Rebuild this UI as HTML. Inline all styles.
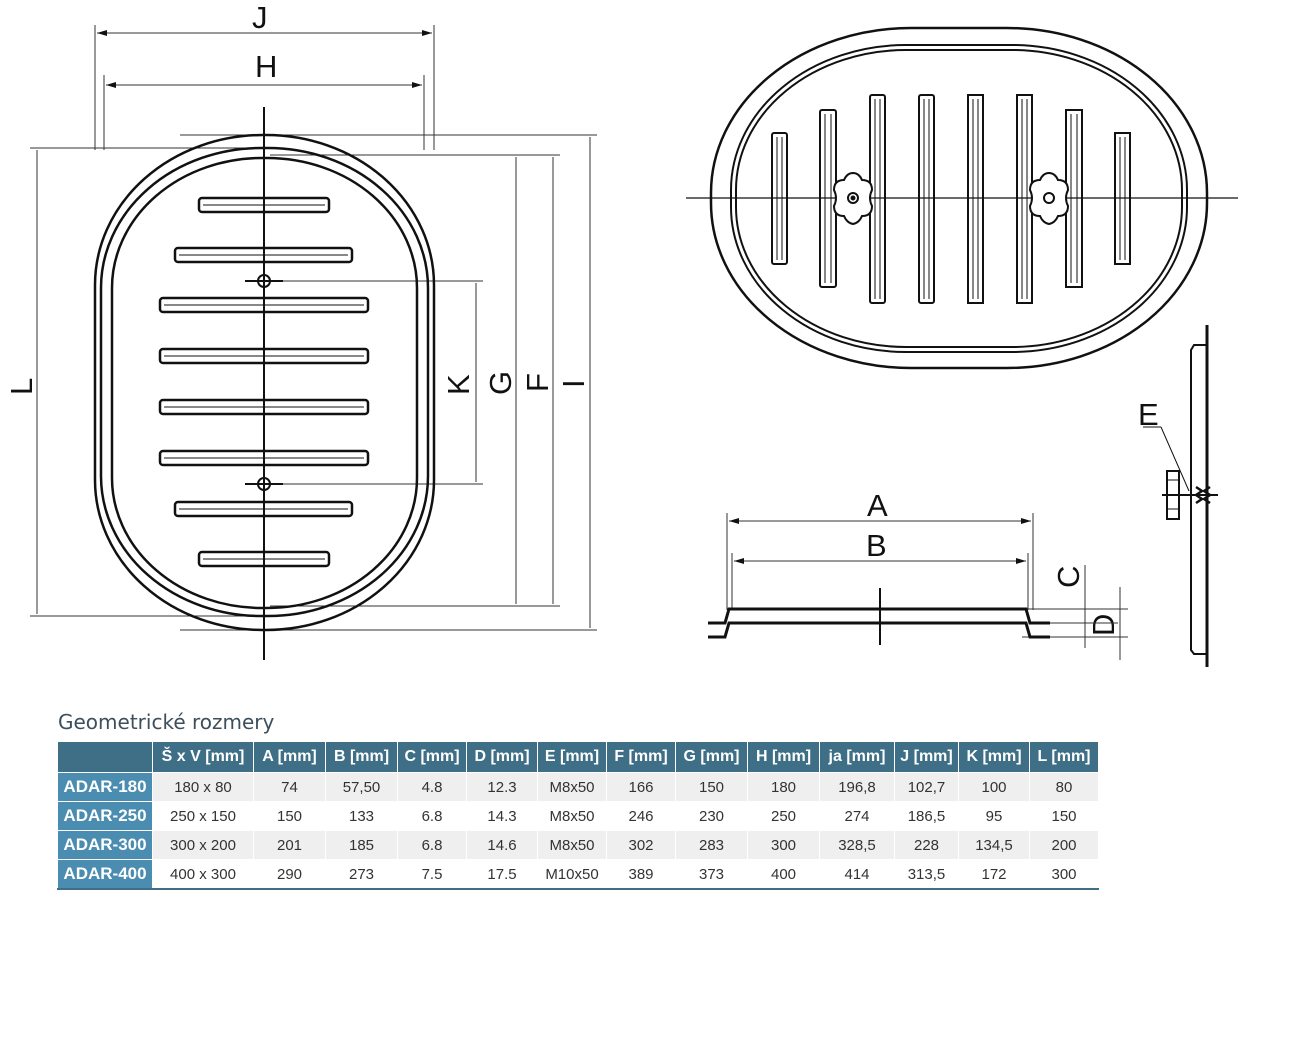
<!DOCTYPE html>
<html><head><meta charset="utf-8"><style>
body{margin:0;background:#fff;width:1308px;height:1062px;overflow:hidden;position:relative;font-family:"Liberation Sans",sans-serif}
svg{position:absolute;left:0;top:0}
.t{position:absolute;left:58px;top:710px;font-size:20px;color:#3d4f5c;font-family:"DejaVu Sans","Liberation Sans",sans-serif}
table{position:absolute;left:57px;top:741px;border-collapse:collapse;font-family:"Liberation Sans",sans-serif;font-size:15px;color:#333;border-bottom:2px solid #3e6f86}
td,th{border:1px solid #fff;text-align:center;padding:0;height:28px}
th{background:#3e6f86;color:#fff;font-weight:bold;font-size:16px;height:30px}
tr.g td{background:#efefef}
tr td.n{background:#4a8db0;color:#fff;font-weight:bold;font-size:17px}
</style></head><body>
<svg width="1308" height="700" viewBox="0 0 1308 700" fill="none" stroke="#111">
<g stroke-width="1" stroke="#333">
<line x1="95" y1="25" x2="95" y2="150"/><line x1="434" y1="25" x2="434" y2="150"/>
<line x1="97" y1="33" x2="432" y2="33"/>
<line x1="104" y1="75" x2="104" y2="150"/><line x1="424" y1="75" x2="424" y2="150"/>
<line x1="106" y1="85" x2="422" y2="85"/>
<line x1="180" y1="135" x2="597" y2="135"/>
<line x1="30" y1="148" x2="262" y2="148"/>
<line x1="270" y1="155" x2="560" y2="155"/>
<line x1="270" y1="281" x2="483" y2="281"/>
<line x1="270" y1="484" x2="483" y2="484"/>
<line x1="270" y1="606" x2="560" y2="606"/>
<line x1="30" y1="616" x2="262" y2="616"/>
<line x1="180" y1="630" x2="597" y2="630"/>
<line x1="37" y1="150" x2="37" y2="614"/>
<line x1="476" y1="283" x2="476" y2="482"/>
<line x1="516" y1="157" x2="516" y2="604"/>
<line x1="553" y1="157" x2="553" y2="604"/>
<line x1="590" y1="137" x2="590" y2="628"/>
</g>
<g fill="#111" stroke="none">
<path d="M97 33l10-3v6z"/><path d="M432 33l-10-3v6z"/>
<path d="M106 85l10-3v6z"/><path d="M422 85l-10-3v6z"/>
</g>
<line x1="264" y1="107" x2="264" y2="660" stroke-width="2"/>
<g stroke-width="2.5">
<rect x="95" y="135" width="339" height="495" rx="168" ry="150"/>
<rect x="101" y="148" width="327" height="468" rx="160" ry="140"/>
<rect x="112" y="158" width="305" height="450" rx="150" ry="130"/>
</g>
<g stroke-width="2.5">
<rect x="199" y="198" width="130" height="14" rx="3"/>
<rect x="175" y="248" width="177" height="14" rx="3"/>
<rect x="160" y="298" width="208" height="14" rx="3"/>
<rect x="160" y="349" width="208" height="14" rx="3"/>
<rect x="160" y="400" width="208" height="14" rx="3"/>
<rect x="160" y="451" width="208" height="14" rx="3"/>
<rect x="175" y="502" width="177" height="14" rx="3"/>
<rect x="199" y="552" width="130" height="14" rx="3"/>
</g>
<g stroke-width="1">
<line x1="203" y1="205" x2="325" y2="205"/><line x1="179" y1="255" x2="348" y2="255"/>
<line x1="164" y1="305" x2="364" y2="305"/><line x1="164" y1="356" x2="364" y2="356"/>
<line x1="164" y1="407" x2="364" y2="407"/><line x1="164" y1="458" x2="364" y2="458"/>
<line x1="179" y1="509" x2="348" y2="509"/><line x1="203" y1="559" x2="325" y2="559"/>
</g>
<circle cx="264" cy="281" r="6" stroke-width="2"/><line x1="245" y1="281" x2="283" y2="281" stroke-width="2"/>
<circle cx="264" cy="484" r="6" stroke-width="2"/><line x1="245" y1="484" x2="283" y2="484" stroke-width="2"/>
<g fill="#111" stroke="none" font-family="Liberation Sans" font-size="31">
<text x="252" y="28">J</text>
<text x="255" y="77">H</text>
<text transform="translate(32,395) rotate(-90)">L</text>
<text transform="translate(469,395) rotate(-90)">K</text>
<text transform="translate(511,395) rotate(-90)">G</text>
<text transform="translate(548,392) rotate(-90)">F</text>
<text transform="translate(584,388) rotate(-90)">I</text>
<text x="867" y="516">A</text>
<text x="866" y="556">B</text>
<text transform="translate(1079,588) rotate(-90)">C</text>
<text transform="translate(1114,636) rotate(-90)">D</text>
<text x="1138" y="425">E</text>
</g>
<line x1="686" y1="198" x2="1238" y2="198" stroke-width="1.2"/>
<rect x="711" y="28" width="496" height="340" rx="200" ry="165" stroke-width="2.5"/>
<rect x="731" y="45" width="456" height="307" rx="175" ry="145" stroke-width="2"/>
<rect x="736" y="50" width="446" height="297" rx="170" ry="140" stroke-width="2"/>
<g stroke-width="2">
<rect x="772" y="133" width="15" height="131" rx="2"/>
<rect x="820" y="110" width="16" height="177" rx="2"/>
<rect x="870" y="95" width="15" height="208" rx="2"/>
<rect x="919" y="95" width="15" height="208" rx="2"/>
<rect x="968" y="95" width="15" height="208"/>
<rect x="1017" y="95" width="15" height="208"/>
<rect x="1066" y="110" width="16" height="177"/>
<rect x="1115" y="133" width="15" height="131"/>
</g>
<g stroke-width="1">
<line x1="777" y1="137" x2="777" y2="260"/><line x1="782" y1="137" x2="782" y2="260"/>
<line x1="825" y1="114" x2="825" y2="283"/><line x1="831" y1="114" x2="831" y2="283"/>
<line x1="875" y1="99" x2="875" y2="299"/><line x1="880" y1="99" x2="880" y2="299"/>
<line x1="924" y1="99" x2="924" y2="299"/><line x1="929" y1="99" x2="929" y2="299"/>
<line x1="973" y1="99" x2="973" y2="299"/><line x1="978" y1="99" x2="978" y2="299"/>
<line x1="1022" y1="99" x2="1022" y2="299"/><line x1="1027" y1="99" x2="1027" y2="299"/>
<line x1="1071" y1="114" x2="1071" y2="283"/><line x1="1077" y1="114" x2="1077" y2="283"/>
<line x1="1120" y1="137" x2="1120" y2="260"/><line x1="1125" y1="137" x2="1125" y2="260"/>
</g>
<g stroke-width="2" fill="#fff">
<path d="M853 173 q6 0 9 7 q10 0 10 10 q-4 8 0 16 q0 10 -10 10 q-3 7 -9 8 q-6 -1 -9 -8 q-10 0 -10 -10 q4 -8 0 -16 q0 -10 10 -10 q3 -7 9 -7z"/>
<path d="M1049 173 q6 0 9 7 q10 0 10 10 q-4 8 0 16 q0 10 -10 10 q-3 7 -9 8 q-6 -1 -9 -8 q-10 0 -10 -10 q4 -8 0 -16 q0 -10 10 -10 q3 -7 9 -7z"/>
</g>
<circle cx="853" cy="198" r="5" stroke-width="2"/><circle cx="853" cy="198" r="2" fill="#111"/>
<circle cx="1049" cy="198" r="5" stroke-width="2"/>
<g stroke-width="1" stroke="#333">
<line x1="727" y1="513" x2="727" y2="610"/><line x1="1033" y1="513" x2="1033" y2="610"/>
<line x1="729" y1="521" x2="1031" y2="521"/>
<line x1="732" y1="553" x2="732" y2="610"/><line x1="1028" y1="553" x2="1028" y2="610"/>
<line x1="734" y1="561" x2="1026" y2="561"/>
<line x1="1022" y1="609" x2="1128" y2="609"/><line x1="1022" y1="637" x2="1128" y2="637"/>
<line x1="1085" y1="565" x2="1085" y2="648"/><line x1="1120" y1="587" x2="1120" y2="660"/>
<line x1="1050" y1="623" x2="1118" y2="623"/>
</g>
<g fill="#111" stroke="none">
<path d="M729 521l10-3v6z"/><path d="M1031 521l-10-3v6z"/>
<path d="M734 561l10-3v6z"/><path d="M1026 561l-10-3v6z"/>
</g>
<g stroke-width="3">
<path d="M708 623 H725 L729 609 H1026 L1030 623 H1050"/>
<path d="M708 637 H725 L729 623 H1026 L1030 637 H1050"/>
</g>
<line x1="880" y1="588" x2="880" y2="645" stroke-width="2"/>
<line x1="1207" y1="325" x2="1207" y2="667" stroke-width="3"/>
<path d="M1207 345 H1194 L1191 350 V650 L1194 654 H1207" stroke-width="2"/>
<rect x="1167" y="471" width="12" height="48" stroke-width="2"/>
<line x1="1167" y1="480" x2="1179" y2="480"/><line x1="1167" y1="509" x2="1179" y2="509"/>
<line x1="1162" y1="495" x2="1218" y2="495" stroke-width="2"/>
<path d="M1196 487 l6 4 l-6 4 l6 4 l-6 4 M1210 487 l-6 4 l6 4 l-6 4 l6 4" stroke-width="2.5"/>
<line x1="1143" y1="427" x2="1161" y2="427" stroke-width="1"/>
<line x1="1161" y1="427" x2="1189" y2="491" stroke-width="1"/>
</svg>
<div class="t">Geometrické rozmery</div>
<table>
<tr><th style="width:94px"></th><th style="width:100px">Š x V [mm]</th><th style="width:71px">A [mm]</th><th style="width:71px">B [mm]</th><th style="width:68px">C [mm]</th><th style="width:70px">D [mm]</th><th style="width:68px">E [mm]</th><th style="width:68px">F [mm]</th><th style="width:71px">G [mm]</th><th style="width:71px">H [mm]</th><th style="width:74px">ja [mm]</th><th style="width:63px">J [mm]</th><th style="width:70px">K [mm]</th><th style="width:68px">L [mm]</th></tr>
<tr class="g"><td class="n">ADAR-180</td><td>180 x 80</td><td>74</td><td>57,50</td><td>4.8</td><td>12.3</td><td>M8x50</td><td>166</td><td>150</td><td>180</td><td>196,8</td><td>102,7</td><td>100</td><td>80</td></tr>
<tr><td class="n">ADAR-250</td><td>250 x 150</td><td>150</td><td>133</td><td>6.8</td><td>14.3</td><td>M8x50</td><td>246</td><td>230</td><td>250</td><td>274</td><td>186,5</td><td>95</td><td>150</td></tr>
<tr class="g"><td class="n">ADAR-300</td><td>300 x 200</td><td>201</td><td>185</td><td>6.8</td><td>14.6</td><td>M8x50</td><td>302</td><td>283</td><td>300</td><td>328,5</td><td>228</td><td>134,5</td><td>200</td></tr>
<tr><td class="n">ADAR-400</td><td>400 x 300</td><td>290</td><td>273</td><td>7.5</td><td>17.5</td><td>M10x50</td><td>389</td><td>373</td><td>400</td><td>414</td><td>313,5</td><td>172</td><td>300</td></tr>
</table>
</body></html>
